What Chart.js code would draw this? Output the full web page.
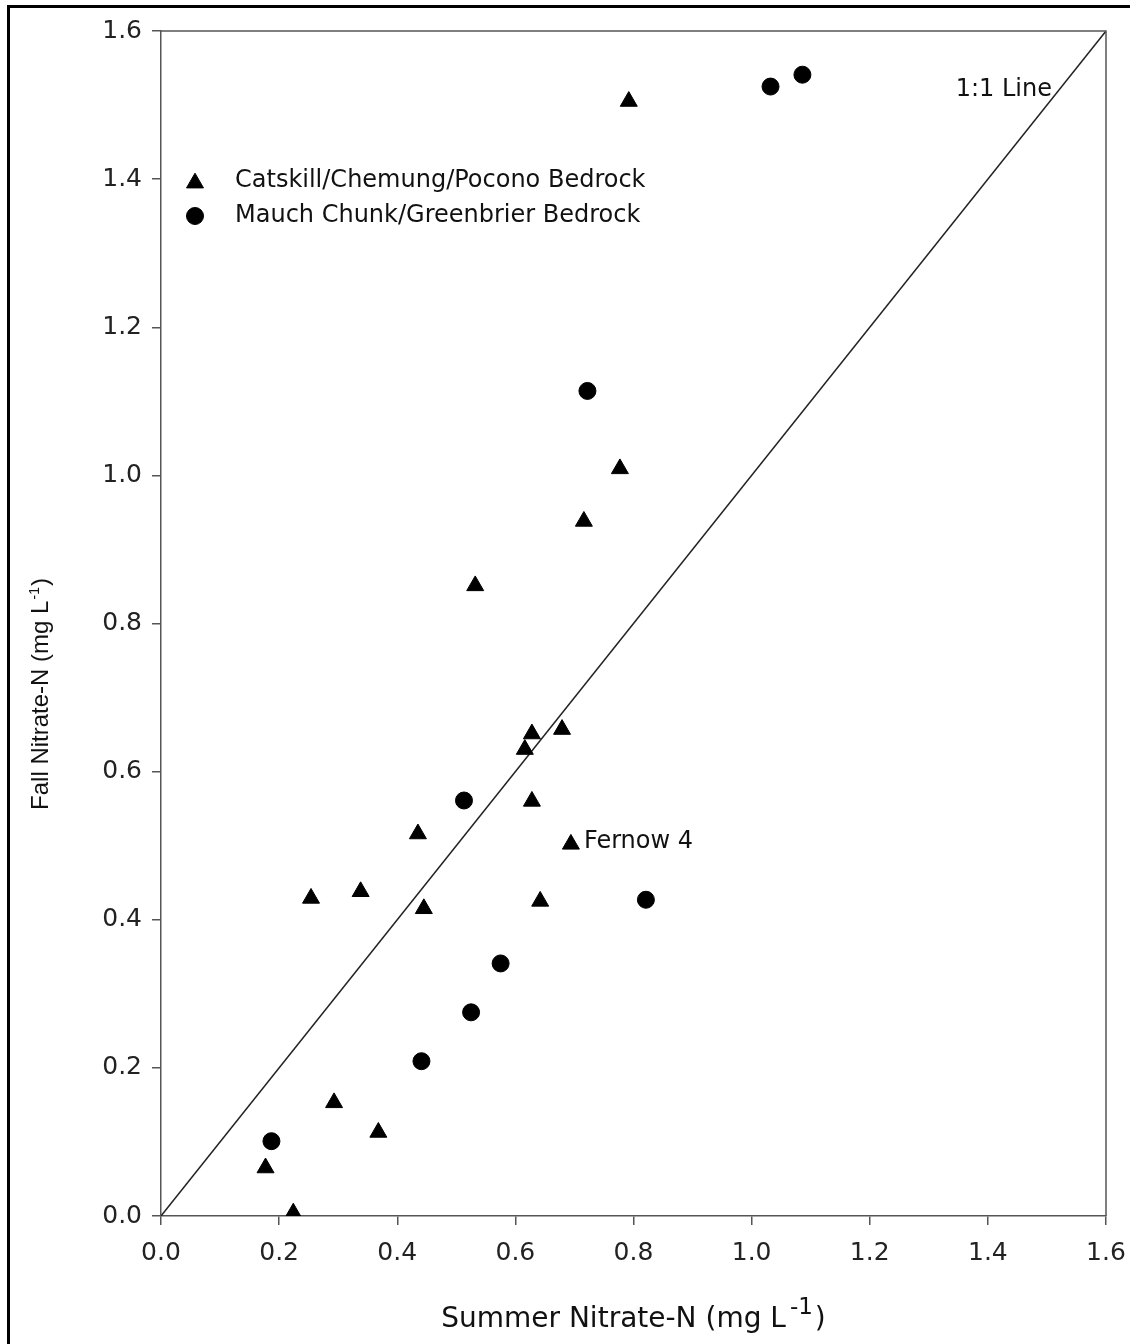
<!DOCTYPE html>
<html>
<head>
<meta charset="utf-8">
<script src="https://cdn.jsdelivr.net/npm/chart.js@4.4.1/dist/chart.umd.min.js"></script>
<style>
  body { margin: 0; background: #fff; }
  #wrap { position: relative; width: 1130px; height: 1344px; }
  #frame { position: absolute; left: 7px; top: 5px; width: 1140px; height: 1360px;
           border-left: 3px solid #000; border-top: 3px solid #000; }
  canvas { position: absolute; left: 0; top: 0; }
</style>
</head>
<body>
<div id="wrap">
  <div id="frame"></div>
  <canvas id="chart" width="1130" height="1344"></canvas>
</div>
<script>
// data (mg/L)
const catskill_x = [0.792, 0.777, 0.716, 0.532, 0.628, 0.679, 0.616, 0.628, 0.435, 0.694, 0.338, 0.254, 0.445, 0.642, 0.293, 0.368, 0.177, 0.224];
const catskill_y = [1.505, 1.009, 0.938, 0.851, 0.651, 0.657, 0.630, 0.560, 0.516, 0.502, 0.438, 0.429, 0.415, 0.425, 0.153, 0.113, 0.065, 0.004];
const mauch_x = [1.032, 1.086, 0.722, 0.513, 0.821, 0.575, 0.525, 0.441, 0.187];
const mauch_y = [1.525, 1.541, 1.114, 0.561, 0.427, 0.341, 0.275, 0.209, 0.101];
const line_x = [0, 1.6];
const line_y = [0, 1.6];
const tick_values = [0, 0.2, 0.4, 0.6, 0.8, 1.0, 1.2, 1.4, 1.6];
const tick_labels = ['0.0', '0.2', '0.4', '0.6', '0.8', '1.0', '1.2', '1.4', '1.6'];
const fernow_index = 9;

const labelFont = 'DejaVu Sans';

function toPoints(xs, ys) {
  return xs.map((x, i) => ({ x: x, y: ys[i] }));
}

// texts, legend and top/right frame
const extras = {
  id: 'extras',
  afterDraw(chart) {
    const ctx = chart.ctx;
    const a = chart.chartArea;
    const xs = chart.scales.x, ys = chart.scales.y;
    ctx.save();

    // top and right frame lines
    ctx.strokeStyle = '#555';
    ctx.lineWidth = 1.5;
    ctx.beginPath();
    ctx.moveTo(a.left, a.top);
    ctx.lineTo(a.right, a.top);
    ctx.lineTo(a.right, a.bottom);
    ctx.stroke();

    ctx.fillStyle = '#111';
    ctx.font = '24px "' + labelFont + '"';
    ctx.textBaseline = 'middle';

    // legend inside the plot
    const legendRows = [
      { ds: chart.data.datasets[0], y: 181 },
      { ds: chart.data.datasets[1], y: 216 }
    ];
    legendRows.forEach(r => {
      ctx.fillStyle = '#000';
      ctx.strokeStyle = '#000';
      ctx.lineWidth = 1;
      Chart.helpers.drawPoint(ctx, { pointStyle: r.ds.pointStyle, radius: r.ds.pointRadius, borderWidth: 1 }, 195, r.y + (r.ds.pointStyle === 'triangle' ? 2 : 0));
      ctx.fillStyle = '#111';
      ctx.textAlign = 'left';
      ctx.fillText(r.ds.label, 235, r.y);
    });

    // 1:1 line label
    ctx.textAlign = 'right';
    ctx.textBaseline = 'alphabetic';
    ctx.fillText('1:1 Line', 1052, 96);

    // Fernow 4 label next to its point
    const fx = xs.getPixelForValue(catskill_x[fernow_index]);
    const fy = ys.getPixelForValue(catskill_y[fernow_index]);
    ctx.textAlign = 'left';
    ctx.textBaseline = 'middle';
    ctx.fillText('Fernow 4', fx + 13, fy - 2);

    // x axis title with superscript
    ctx.textBaseline = 'alphabetic';
    const main = 'Summer Nitrate-N (mg L';
    ctx.font = '28px "' + labelFont + '"';
    const w1 = ctx.measureText(main).width;
    const w3 = ctx.measureText(')').width;
    ctx.font = '23px "' + labelFont + '"';
    const w2 = ctx.measureText('-1').width;
    const total = w1 + 4 + w2 + 2 + w3;
    let x0 = (a.left + a.right) / 2 - total / 2;
    ctx.textAlign = 'left';
    ctx.font = '28px "' + labelFont + '"';
    ctx.fillText(main, x0, 1327);
    ctx.font = '23px "' + labelFont + '"';
    ctx.fillText('-1', x0 + w1 + 4, 1314);
    ctx.font = '28px "' + labelFont + '"';
    ctx.fillText(')', x0 + w1 + 4 + w2 + 2, 1327);

    // y axis title, rotated, with small superscript
    ctx.translate(48, 694);
    ctx.rotate(-Math.PI / 2);
    const ymain = 'Fall Nitrate-N (mg L';
    ctx.font = '24px "Liberation Sans"';
    const v1 = ctx.measureText(ymain).width;
    const v3 = ctx.measureText(')').width;
    ctx.font = '14px "Liberation Sans"';
    const v2 = ctx.measureText('-1').width;
    const vt = v1 + v2 + v3 + 2;
    let y0 = -vt / 2;
    ctx.font = '24px "Liberation Sans"';
    ctx.fillText(ymain, y0, 0);
    ctx.font = '14px "Liberation Sans"';
    ctx.fillText('-1', y0 + v1 + 1, -9);
    ctx.font = '24px "Liberation Sans"';
    ctx.fillText(')', y0 + v1 + v2 + 2, 0);

    ctx.restore();
  }
};

function fixedTicks(scale) {
  scale.ticks = tick_values.map(v => ({ value: v }));
}

const data = {
  datasets: [
    {
      label: 'Catskill/Chemung/Pocono Bedrock',
      data: toPoints(catskill_x, catskill_y),
      pointStyle: 'triangle',
      pointRadius: 9.8,
      backgroundColor: '#000',
      borderColor: '#000',
      borderWidth: 1,
      showLine: false
    },
    {
      label: 'Mauch Chunk/Greenbrier Bedrock',
      data: toPoints(mauch_x, mauch_y),
      pointStyle: 'circle',
      pointRadius: 8.5,
      backgroundColor: '#000',
      borderColor: '#000',
      borderWidth: 1,
      showLine: false
    },
    {
      label: '1:1 Line',
      data: toPoints(line_x, line_y),
      showLine: true,
      pointRadius: 0,
      borderColor: '#222',
      borderWidth: 1.5,
      fill: false
    }
  ]
};

const config = {
  type: 'scatter',
  data: data,
  options: {
    responsive: false,
    animation: false,
    layout: { padding: { top: 31, right: 24, left: 0, bottom: 0 } },
    plugins: {
      legend: { display: false },
      tooltip: { enabled: false }
    },
    scales: {
      x: {
        type: 'linear',
        min: 0,
        max: 1.6,
        afterBuildTicks: fixedTicks,
        afterFit: s => { s.height = 128; s.paddingLeft = 0; s.paddingRight = 0; },
        border: { color: '#555', width: 1.5 },
        grid: { drawOnChartArea: false, drawTicks: true, tickLength: 9, color: '#555', lineWidth: 1.5 },
        ticks: {
          color: '#222',
          padding: 13,
          maxRotation: 0,
          font: { family: labelFont, size: 25 },
          callback: (v) => tick_labels[tick_values.indexOf(v)]
        }
      },
      y: {
        type: 'linear',
        min: 0,
        max: 1.6,
        afterBuildTicks: fixedTicks,
        afterFit: s => { s.width = 161; s.paddingTop = 0; s.paddingBottom = 0; },
        border: { color: '#555', width: 1.5 },
        grid: { drawOnChartArea: false, drawTicks: true, tickLength: 9, color: '#555', lineWidth: 1.5 },
        ticks: {
          color: '#222',
          padding: 10,
          font: { family: labelFont, size: 25 },
          callback: (v) => tick_labels[tick_values.indexOf(v)]
        }
      }
    }
  },
  plugins: [extras]
};

new Chart(document.getElementById('chart'), config);
</script>
</body>
</html>
